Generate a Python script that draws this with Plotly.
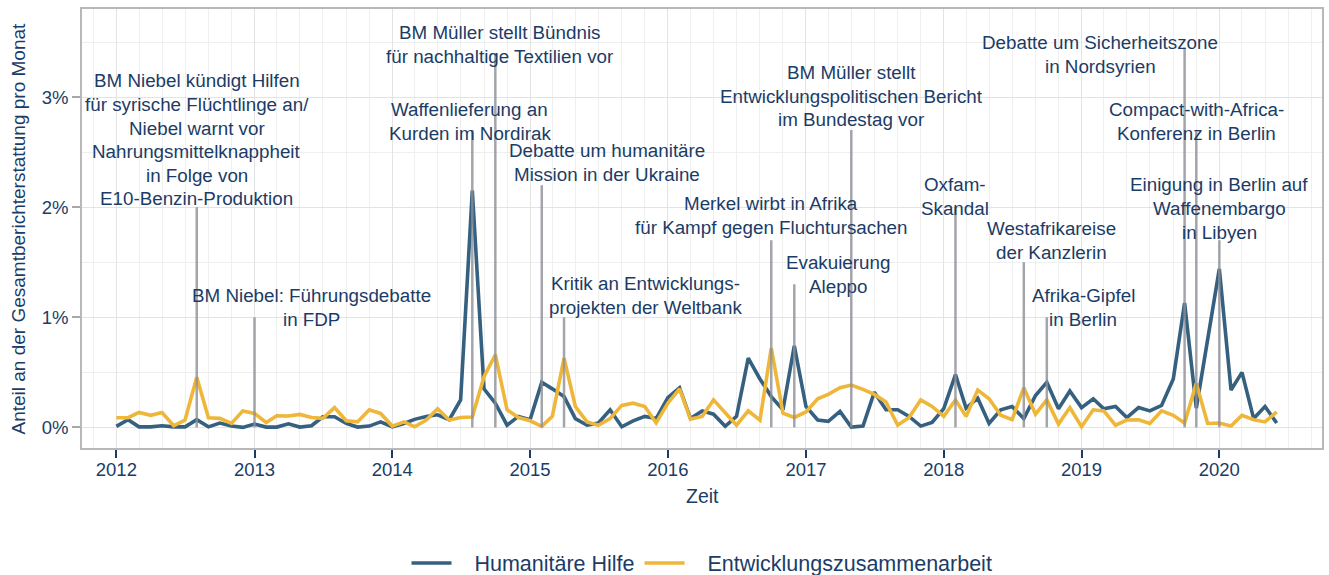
import pandas as pd
import plotly.graph_objects as go

# ---------------- data (percent of total coverage per month) ----------------
months = pd.date_range("2012-01-01", periods=102, freq="MS")

humanitaere_hilfe = [
    0.01, 0.07, 0.005, 0.005, 0.015, 0.005, 0.005, 0.07, 0.005, 0.04, 0.012, 0.0,      # 2012
    0.03, 0.003, 0.003, 0.033, 0.003, 0.015, 0.097, 0.097, 0.036, 0.003, 0.012, 0.05,  # 2013
    0.006, 0.036, 0.073, 0.10, 0.115, 0.07, 0.25, 2.15, 0.35, 0.22, 0.02, 0.10,        # 2014
    0.07, 0.41, 0.35, 0.28, 0.08, 0.02, 0.04, 0.16, 0.006, 0.06, 0.10, 0.08,           # 2015
    0.27, 0.36, 0.08, 0.15, 0.12, 0.01, 0.10, 0.63, 0.44, 0.28, 0.16, 0.74,            # 2016
    0.19, 0.067, 0.055, 0.145, 0.003, 0.012, 0.32, 0.16, 0.16, 0.10, 0.012, 0.045,     # 2017
    0.17, 0.48, 0.175, 0.265, 0.036, 0.16, 0.19, 0.08, 0.29, 0.41, 0.17, 0.33,         # 2018
    0.18, 0.26, 0.17, 0.19, 0.09, 0.18, 0.15, 0.20, 0.44, 1.13, 0.175, 0.79,           # 2019
    1.44, 0.34, 0.50, 0.08, 0.19, 0.04,                                                # 2020
]

entwicklungszusammenarbeit = [
    0.088, 0.088, 0.136, 0.11, 0.136, 0.015, 0.067, 0.455, 0.088, 0.082, 0.036, 0.15,  # 2012
    0.127, 0.045, 0.106, 0.103, 0.118, 0.09, 0.082, 0.18, 0.06, 0.05, 0.16, 0.127,     # 2013
    0.012, 0.05, 0.006, 0.067, 0.17, 0.067, 0.09, 0.095, 0.46, 0.66, 0.16, 0.09,       # 2014
    0.06, 0.01, 0.10, 0.63, 0.19, 0.05, 0.02, 0.08, 0.20, 0.22, 0.19, 0.04,            # 2015
    0.22, 0.35, 0.076, 0.10, 0.25, 0.13, 0.02, 0.15, 0.065, 0.72, 0.13, 0.09,          # 2016
    0.14, 0.26, 0.30, 0.36, 0.385, 0.345, 0.30, 0.23, 0.02, 0.09, 0.25, 0.19,          # 2017
    0.10, 0.25, 0.10, 0.34, 0.26, 0.11, 0.07, 0.36, 0.12, 0.25, 0.03, 0.18,            # 2018
    0.006, 0.16, 0.15, 0.02, 0.067, 0.07, 0.036, 0.15, 0.11, 0.04, 0.40, 0.036,        # 2019
    0.04, 0.012, 0.11, 0.07, 0.05, 0.14,                                               # 2020
]

series_names = ["Humanitäre Hilfe", "Entwicklungszusammenarbeit"]

event_dates = ["2012-08-01", "2013-01-01", "2014-08-01", "2014-10-01", "2015-02-01",
               "2015-04-01", "2016-10-01", "2016-12-01", "2017-05-01", "2018-02-01",
               "2018-08-01", "2018-10-01", "2019-10-01", "2019-11-01", "2020-01-01"]
event_heights = [2.0, 1.0, 2.7, 3.4, 2.2, 1.0, 1.7, 1.3, 2.7, 2.0, 1.5, 1.0, 3.45, 2.7, 1.7]
event_labels = [
    ["BM Niebel kündigt Hilfen", "für syrische Flüchtlinge an/", "Niebel warnt vor",
     "Nahrungsmittelknappheit", "in Folge von", "E10-Benzin-Produktion"],
    ["BM Niebel: Führungsdebatte", "in FDP"],
    ["Waffenlieferung an", "Kurden im Nordirak"],
    ["BM Müller stellt Bündnis", "für nachhaltige Textilien vor"],
    ["Debatte um humanitäre", "Mission in der Ukraine"],
    ["Kritik an Entwicklungs-", "projekten der Weltbank"],
    ["Merkel wirbt in Afrika", "für Kampf gegen Fluchtursachen"],
    ["Evakuierung", "Aleppo"],
    ["BM Müller stellt", "Entwicklungspolitischen Bericht", "im Bundestag vor"],
    ["Oxfam-", "Skandal"],
    ["Westafrikareise", "der Kanzlerin"],
    ["Afrika-Gipfel", "in Berlin"],
    ["Debatte um Sicherheitszone", "in Nordsyrien"],
    ["Compact-with-Africa-", "Konferenz in Berlin"],
    ["Einigung in Berlin auf", "Waffenembargo", "in Libyen"],
]

year_ticks = ["2012", "2013", "2014", "2015", "2016", "2017", "2018", "2019", "2020"]
pct_ticks = [0, 1, 2, 3]

# ---------------- layout / style ----------------
label_x = ["2012-08-01", "2013-05-31", "2014-07-25", "2014-10-13", "2015-07-24",
           "2015-11-02", "2016-10-01", "2017-03-28", "2017-05-01", "2018-02-01",
           "2018-10-13", "2019-01-06", "2019-02-20", "2019-11-01", "2020-01-01"]
label_top = [3.148, 1.194, 2.885, 3.585, 2.512, 1.303, 2.03, 1.494, 3.221, 2.203,
             1.803, 1.194, 3.494, 2.885, 2.203]
line_step = 0.2145

TXT = "#1b3c66"
BLUE = "#35607f"
YELLOW = "#efb73a"
FONT = "Liberation Sans, Arial, sans-serif"
PAD = "\u00a0\u00a0\u00a0"  # gap between legend key and its label

fig = go.Figure()
fig.add_trace(go.Scatter(x=months, y=humanitaere_hilfe, mode="lines",
                         name=PAD + series_names[0],
                         line=dict(color=BLUE, width=3.6)))
fig.add_trace(go.Scatter(x=months, y=entwicklungszusammenarbeit, mode="lines",
                         name=PAD + series_names[1],
                         line=dict(color=YELLOW, width=3.6)))

for d, h in zip(event_dates, event_heights):
    fig.add_shape(type="line", xref="x", yref="y", x0=d, x1=d, y0=0, y1=h,
                  line=dict(color="rgba(140,143,150,0.8)", width=2.5), layer="above")

for lx, ly, lines in zip(label_x, label_top, event_labels):
    for i, t in enumerate(lines):
        fig.add_annotation(x=lx, y=ly - i * line_step, xref="x", yref="y", text=t,
                           showarrow=False, xanchor="center", yanchor="middle",
                           font=dict(family=FONT, size=18.8, color=TXT))

# axis titles
fig.add_annotation(text="Zeit", xref="paper", yref="paper", x=0.5, y=-0.11,
                   xanchor="center", yanchor="middle", showarrow=False,
                   font=dict(family=FONT, size=19.5, color=TXT))
fig.add_annotation(text="Anteil an der Gesamtberichterstattung pro Monat",
                   xref="paper", yref="paper", x=-0.0516, y=0.5, textangle=-90,
                   xanchor="center", yanchor="middle", showarrow=False,
                   font=dict(family=FONT, size=19, color=TXT))

fig.update_layout(
    width=1329, height=575,
    margin=dict(l=82, r=7, t=9, b=127, autoexpand=False),
    plot_bgcolor="white", paper_bgcolor="white",
    font=dict(family=FONT, color=TXT),
    showlegend=True,
    legend=dict(orientation="h", x=0.5, xanchor="center", y=-0.262, yanchor="middle",
                font=dict(family=FONT, size=21.5, color=TXT), itemwidth=40,
                bgcolor="rgba(0,0,0,0)"),
)
fig.update_xaxes(
    type="date", range=["2011-10-02", "2020-09-29"], automargin=False,
    tickvals=[y + "-01-01" for y in year_ticks], ticktext=year_ticks,
    ticks="outside", ticklen=8, tickwidth=2, tickcolor=TXT, ticklabelstandoff=-4,
    tickfont=dict(family=FONT, size=18.5, color=TXT),
    showgrid=True, gridcolor="#e3e3e3", gridwidth=1.2,
    minor=dict(dtick="M2", tick0="2012-01-01", showgrid=True, gridcolor="#efefef", gridwidth=1),
    showline=True, linecolor="#b8b8b8", linewidth=1.5, mirror=True, zeroline=False,
)
fig.update_yaxes(
    range=[-0.187, 3.80], automargin=False,
    tickvals=pct_ticks, ticktext=[f"{v}%" for v in pct_ticks],
    ticks="outside", ticklen=8, tickwidth=1.5, tickcolor="#a8a8a8",
    tickfont=dict(family=FONT, size=18.5, color=TXT),
    showgrid=True, gridcolor="#e3e3e3", gridwidth=1.2,
    minor=dict(dtick=0.5, tick0=0, showgrid=True, gridcolor="#efefef", gridwidth=1),
    showline=True, linecolor="#b8b8b8", linewidth=1.5, mirror=True, zeroline=False,
)

fig.write_html("out.html", config={"displayModeBar": False},
               post_script="document.body.style.margin='0px';")
